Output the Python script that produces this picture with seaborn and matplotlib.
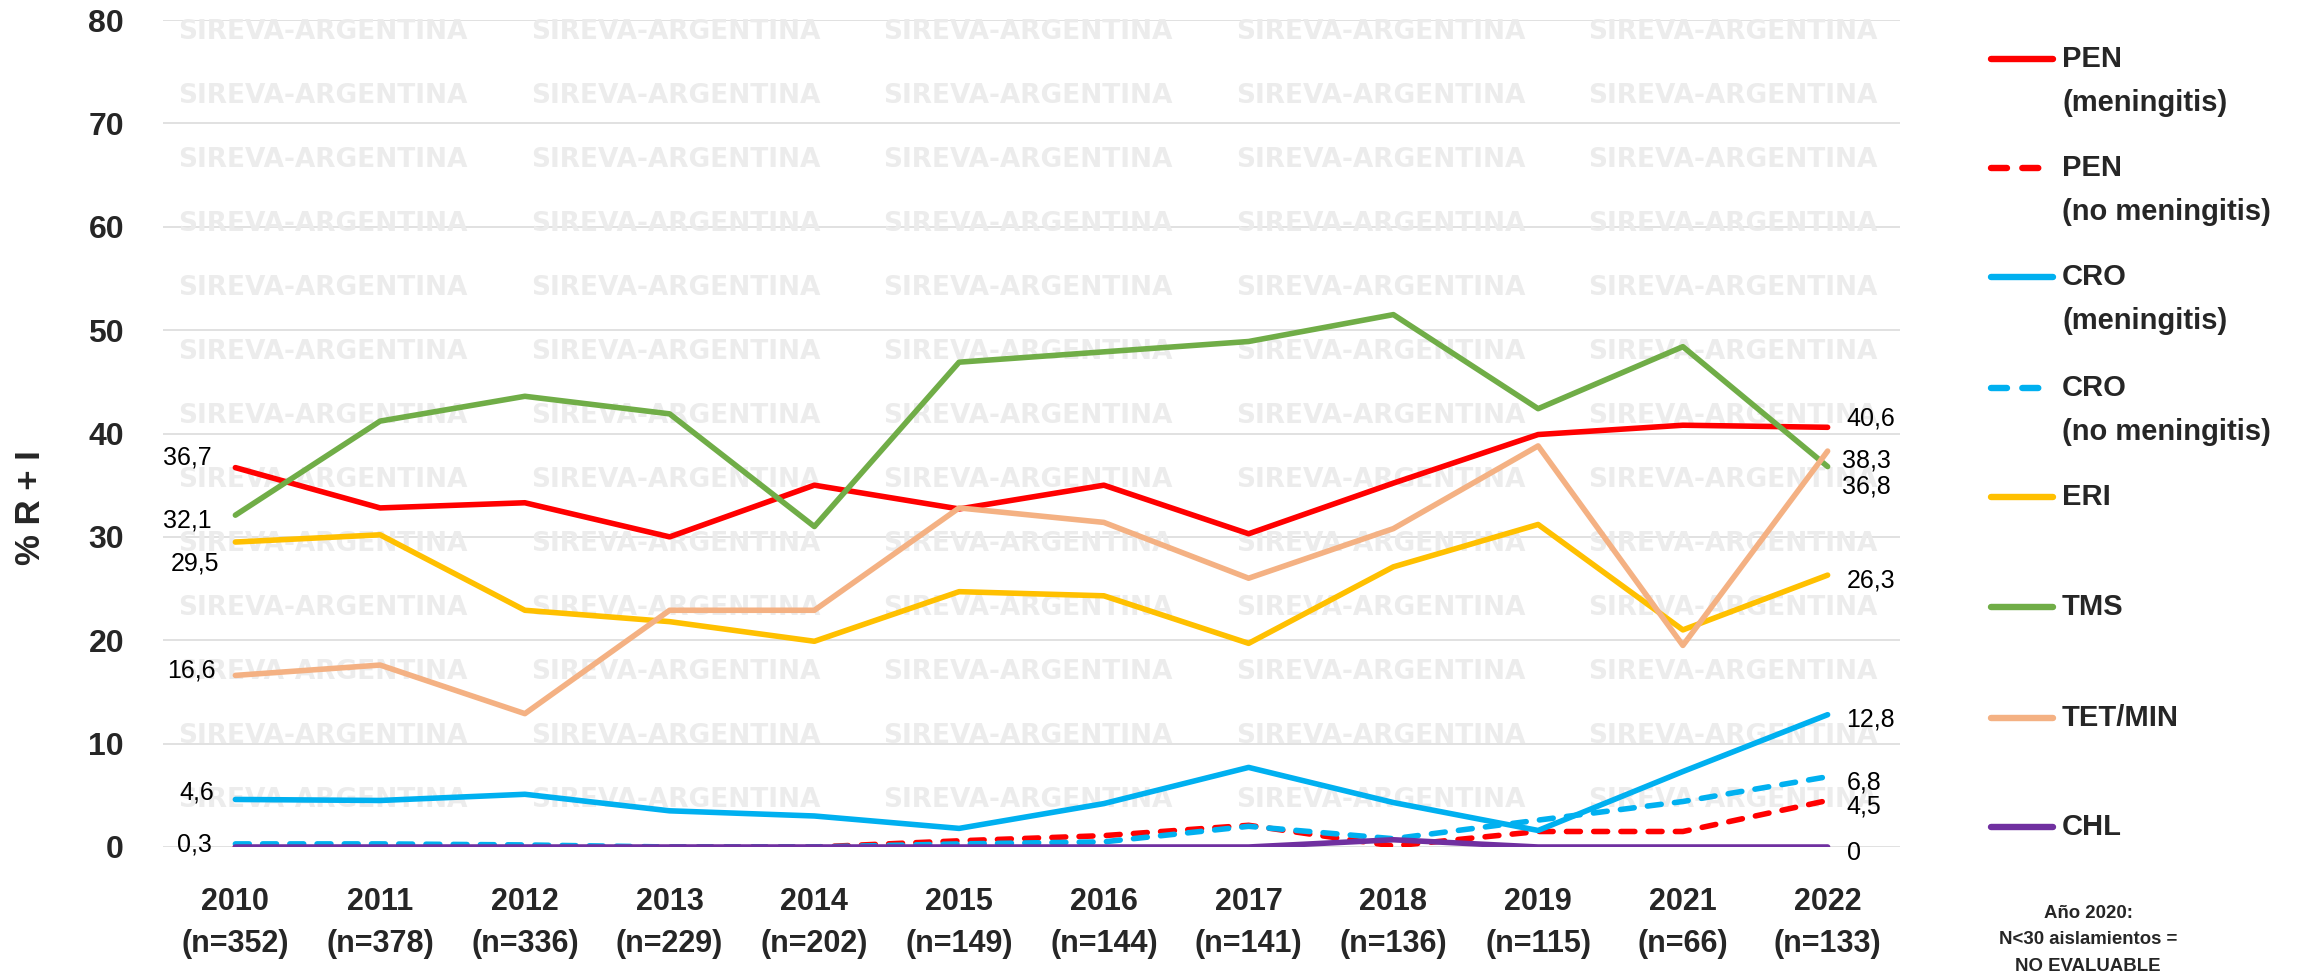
import numpy as np
import pandas as pd
import matplotlib
matplotlib.use('Agg')
import matplotlib.pyplot as plt
import seaborn as sns
from matplotlib.lines import Line2D

# Datos (% R + I) por año; 2020 no evaluable (N<30)
years = ['2010', '2011', '2012', '2013', '2014', '2015', '2016', '2017', '2018', '2019', '2021', '2022']
n_isol = [352, 378, 336, 229, 202, 149, 144, 141, 136, 115, 66, 133]

pen_men = [36.7, 32.8, 33.3, 30.0, 35.0, 32.7, 35.0, 30.3, 35.2, 39.9, 40.8, 40.6]
pen_nomen = [0.0, 0.0, 0.0, 0.0, 0.0, 0.6, 1.1, 2.1, 0.1, 1.5, 1.5, 4.5]
cro_men = [4.6, 4.5, 5.1, 3.5, 3.0, 1.8, 4.2, 7.7, 4.3, 1.6, 7.3, 12.8]
cro_nomen = [0.3, 0.3, 0.2, 0.0, 0.0, 0.3, 0.5, 2.0, 0.8, 2.6, 4.4, 6.8]
eri = [29.5, 30.2, 22.9, 21.8, 19.9, 24.7, 24.3, 19.7, 27.1, 31.2, 21.0, 26.3]
tms = [32.1, 41.2, 43.6, 41.9, 31.0, 46.9, 47.9, 48.9, 51.5, 42.4, 48.4, 36.8]
tet_min = [16.6, 17.6, 12.9, 22.9, 22.9, 32.8, 31.4, 26.0, 30.8, 38.8, 19.5, 38.3]
chl = [0.0, 0.0, 0.0, 0.0, 0.0, 0.0, 0.0, 0.0, 0.7, 0.0, 0.0, 0.0]

series = [pen_men, pen_nomen, cro_men, cro_nomen, eri, tms, tet_min, chl]
legend_labels = ['PEN\n(meningitis)', 'PEN\n(no meningitis)', 'CRO\n(meningitis)', 'CRO\n(no meningitis)',
                 'ERI', 'TMS', 'TET/MIN', 'CHL']
colors = ['#FF0000', '#FF0000', '#00B0F0', '#00B0F0', '#FFC000', '#70AD47', '#F4B183', '#7030A0']
dashed = [False, True, False, True, False, False, False, False]

# etiquetas de datos: (serie, punto, dx px, dy px, alineacion)
point_labels = [
    (0, 0, -24, 10, 'right'), (5, 0, -24, -5, 'right'), (4, 0, -16, -21, 'right'),
    (6, 0, -20, 5, 'right'), (2, 0, -21, 7, 'right'), (3, 0, -24, -1, 'right'),
    (0, 11, 19, 9, 'left'), (6, 11, 14, -9, 'left'), (5, 11, 14, -20, 'left'),
    (4, 11, 19, -5, 'left'), (2, 11, 19, -5, 'left'), (3, 11, 19, -6, 'left'),
    (1, 11, 19, -6, 'left'), (7, 11, 19, -6, 'left'),
]

W, H = 2302, 977
sns.set_style('white')
plt.rcParams['font.family'] = ['Liberation Sans', 'DejaVu Sans']

fig = plt.figure(figsize=(W / 100, H / 100), dpi=100)
ax = fig.add_axes([163 / W, 1 - 847 / H, (1900 - 163) / W, (847 - 20) / H])

dash_style = (0, (2.5, 2.4))
pos = np.arange(len(years))
for vals, c, d in zip(series, colors, dashed):
    sns.lineplot(x=pos, y=vals, color=c, linewidth=4.0, ax=ax, errorbar=None,
                 linestyle=dash_style if d else '-',
                 solid_capstyle='round', dash_capstyle='round',
                 solid_joinstyle='round', dash_joinstyle='round')

ax.set_xlim(-0.5, len(years) - 0.5)
ax.set_ylim(0, 80)
ax.set_yticks(np.arange(0, 81, 10))
ax.set_xticks(pos)
ax.set_xticklabels([f'{y}\n(n={n})' for y, n in zip(years, n_isol)], linespacing=1.5,
                   fontsize=22, fontweight='bold')
for t in ax.get_yticklabels():
    t.set_fontsize(23)
    t.set_fontweight('bold')
ax.tick_params(axis='y', length=0, pad=28)
ax.tick_params(axis='x', length=0, pad=29)
ax.set_xlabel('')
ax.set_ylabel('')
ax.yaxis.grid(True, color='#d9d9d9', linewidth=1.1)
ax.xaxis.grid(False)
ax.set_axisbelow(True)
for s in ax.spines.values():
    s.set_visible(False)

# marca de agua
for wy in np.arange(32, 801, 64):
    for wx in [178, 531, 883, 1236, 1588]:
        ax.text(wx / W, 1 - wy / H, 'SIREVA-ARGENTINA', transform=fig.transFigure,
                fontsize=19, fontweight='bold', color='#ececec', family='DejaVu Sans',
                ha='left', va='center', zorder=0.6, clip_on=False)

for si, pi, dx, dy, ha in point_labels:
    v = series[si][pi]
    txt = '0' if v == 0 else f'{v:.1f}'.replace('.', ',')
    ax.annotate(txt, xy=(pos[pi], v), xytext=(dx * 0.72, dy * 0.72), textcoords='offset points',
                ha=ha, va='center', fontsize=18, color='black', annotation_clip=False)

fig.text(31 / W, 1 - 508 / H, '% R + I', rotation=90, fontsize=25, fontweight='bold',
         ha='center', va='center')

# leyenda
leg_y = [59, 168, 277, 388, 497, 607, 718, 827]
for lab, c, d, y in zip(legend_labels, colors, dashed, leg_y):
    fig.add_artist(Line2D([1991 / W, 2053 / W], [1 - y / H, 1 - y / H], transform=fig.transFigure,
                          color=c, linewidth=4.6, linestyle=dash_style if d else '-',
                          solid_capstyle='round', dash_capstyle='round'))
    lines = lab.split('\n')
    for k, part in enumerate(lines):
        fig.text(2062 / W, 1 - (y + 44 * k) / H, part, fontsize=21, fontweight='bold',
                 ha='left', va='center')

fig.text(2088 / W, 1 - 940 / H, 'Año 2020:\nN<30 aislamientos =\nNO EVALUABLE', ha='center',
         va='center', fontsize=13.4, fontweight='bold', linespacing=1.7)

fig.savefig('out.png', dpi=100, facecolor='white')
